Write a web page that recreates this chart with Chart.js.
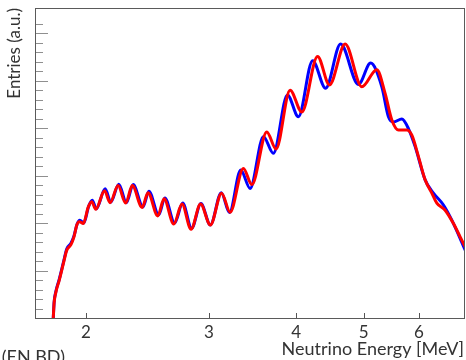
<!DOCTYPE html>
<html>
<head>
<meta charset="utf-8">
<script src="https://cdn.jsdelivr.net/npm/chart.js@4.4.0/dist/chart.umd.min.js"></script>
<style>
  html, body { margin: 0; padding: 0; background: #fff; }
  #wrap { width: 466px; height: 360px; position: relative; }
</style>
</head>
<body>
<div id="wrap"><canvas id="chart"></canvas></div>
<script>
// Spectra: energy in MeV, entries in arbitrary units
const energyRed = [1.795, 1.800, 1.811, 1.831, 1.856, 1.877, 1.902, 1.922, 1.940, 1.956, 1.982,
  2.015, 2.038, 2.065, 2.126, 2.165, 2.223, 2.279, 2.330, 2.406, 2.454, 2.534, 2.587, 2.671,
  2.745, 2.828, 2.918, 3.014, 3.128, 3.217, 3.361, 3.456, 3.631, 3.744, 3.921, 4.076, 4.293,
  4.465, 4.702, 4.968, 5.220, 5.365, 5.485, 5.606, 5.764, 5.860, 5.989, 6.122, 6.259, 6.363,
  6.540, 6.722, 6.872, 6.987];
const entriesRed = [0, 0.32, 0.55, 0.80, 1.15, 1.43, 1.54, 1.71, 1.96, 2.03, 1.99,
  2.34, 2.45, 2.29, 2.68, 2.43, 2.79, 2.42, 2.79, 2.33, 2.64, 2.15, 2.51, 1.98,
  2.40, 1.87, 2.40, 1.96, 2.63, 2.23, 3.15, 2.81, 3.92, 3.56, 4.80, 4.34, 5.51,
  4.91, 5.77, 4.87, 5.23, 4.73, 4.17, 3.96, 3.96, 3.85, 3.40, 2.91, 2.63, 2.42,
  2.27, 1.99, 1.71, 1.50];

const energyBlue = [1.795, 1.800, 1.811, 1.831, 1.856, 1.877, 1.902, 1.922, 1.942, 1.959, 1.985,
  2.017, 2.041, 2.069, 2.130, 2.170, 2.228, 2.285, 2.336, 2.413, 2.461, 2.542, 2.594, 2.679,
  2.751, 2.833, 2.922, 3.014, 3.125, 3.210, 3.332, 3.436, 3.591, 3.711, 3.887, 4.030, 4.224,
  4.409, 4.632, 4.913, 5.115, 5.307, 5.424, 5.514, 5.669, 5.794, 5.924, 6.122, 6.292, 6.504,
  6.686, 6.987];
const entriesBlue = [0, 0.33, 0.57, 0.82, 1.17, 1.46, 1.57, 1.73, 1.98, 2.06, 2.00,
  2.35, 2.48, 2.30, 2.72, 2.44, 2.82, 2.43, 2.81, 2.34, 2.67, 2.17, 2.53, 2.00,
  2.42, 1.89, 2.41, 1.96, 2.64, 2.22, 3.12, 2.73, 3.82, 3.47, 4.70, 4.24, 5.42,
  4.84, 5.77, 4.92, 5.37, 4.87, 4.24, 4.13, 4.19, 3.99, 3.61, 2.91, 2.63, 2.38,
  2.06, 1.43];

const xTickValues = [2, 3, 4, 5, 6];
const xMin = 1.69, xMax = 6.96;
const yMin = 0, yMax = 6.53;

function toPoints(xs, ys) {
  return xs.map((x, i) => ({ x: x, y: ys[i] }));
}

// Inward tick marks and the frame round the plot, like the ROOT canvas
const frameTicks = {
  id: 'frameTicks',
  afterDraw(chart) {
    const { ctx, chartArea: a, scales } = chart;
    ctx.save();
    ctx.lineWidth = 1;

    ctx.strokeStyle = '#8f8f8f';
    scales.y.ticks.forEach(t => {
      if (t.value <= yMin || t.value >= yMax - 0.01) return;
      const y = Math.round(scales.y.getPixelForValue(t.value)) + 0.5;
      const major = Math.abs(t.value - Math.round(t.value)) < 1e-6;
      ctx.beginPath();
      ctx.moveTo(a.left, y);
      ctx.lineTo(a.left + (major ? 13 : 8), y);
      ctx.stroke();
    });

    ctx.strokeStyle = '#555';
    scales.x.ticks.forEach(t => {
      const x = Math.round(scales.x.getPixelForValue(t.value)) + 0.5;
      ctx.beginPath();
      ctx.moveTo(x, a.bottom);
      ctx.lineTo(x, a.bottom - 5);
      ctx.stroke();
    });

    ctx.strokeStyle = '#5a5a5a';
    ctx.strokeRect(Math.round(a.left) + 0.5, Math.round(a.top) + 0.5,
      Math.round(a.right - a.left), Math.round(a.bottom - a.top));

    // caption cut off at the bottom edge of the picture
    ctx.fillStyle = '#333';
    ctx.font = '18px Lato';
    ctx.textAlign = 'right';
    ctx.textBaseline = 'alphabetic';
    ctx.fillText('(EN BD)', 65, 363);
    ctx.restore();
  }
};

document.addEventListener('DOMContentLoaded', function() {
  const ctx = document.getElementById('chart');

  new Chart(ctx, {
    type: 'line',
    data: {
      datasets: [
        {
          label: 'red',
          data: toPoints(energyRed, entriesRed),
          borderColor: '#ff0000',
          borderWidth: 3,
          pointRadius: 0,
          cubicInterpolationMode: 'monotone',
          fill: false
        },
        {
          label: 'blue',
          data: toPoints(energyBlue, entriesBlue),
          borderColor: '#0000ff',
          borderWidth: 3,
          pointRadius: 0,
          cubicInterpolationMode: 'monotone',
          fill: false
        }
      ]
    },
    options: {
      responsive: true,
      maintainAspectRatio: false,
      animation: false,
      layout: { padding: { top: 8, right: 2, left: 0, bottom: 0 } },
      plugins: {
        legend: { display: false },
        tooltip: { enabled: false }
      },
      scales: {
        x: {
          type: 'logarithmic',
          min: xMin,
          max: xMax,
          afterBuildTicks: function(scale) {
            scale.ticks = xTickValues.map(v => ({ value: v }));
          },
          afterFit: function(scale) {
            scale.height = 42;
          },
          grid: { display: false },
          border: { display: false },
          ticks: {
            autoSkip: false,
            maxRotation: 0,
            padding: -4,
            color: '#333',
            font: { family: 'Lato', size: 17 },
            callback: function(value) {
              return String(value);
            }
          },
          title: {
            display: true,
            text: 'Neutrino Energy [MeV]',
            align: 'end',
            color: '#333',
            font: { family: 'Lato', size: 18 },
            padding: { top: 0, bottom: 0 }
          }
        },
        y: {
          min: yMin,
          max: yMax,
          afterFit: function(scale) {
            scale.width = 35;
          },
          grid: { display: false },
          border: { display: false },
          ticks: { display: false, stepSize: 0.2 },
          title: {
            display: true,
            text: 'Entries (a.u.)',
            align: 'end',
            color: '#333',
            font: { family: 'Lato', size: 17 },
            padding: { top: 4, bottom: 0 }
          }
        }
      }
    },
    plugins: [frameTicks]
  });
});
</script>
</body>
</html>
